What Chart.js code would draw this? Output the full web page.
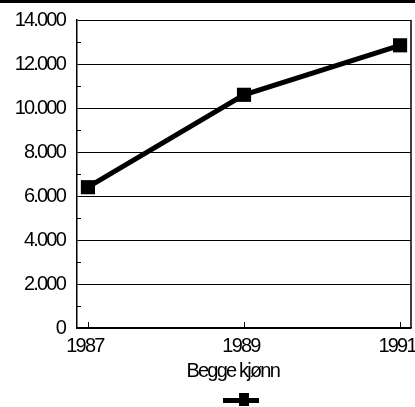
<!DOCTYPE html>
<html>
<head>
<meta charset="utf-8">
<script src="https://cdn.jsdelivr.net/npm/chart.js@4.4.1/dist/chart.umd.min.js"></script>
<style>
html,body{margin:0;padding:0;background:#fff;}
#wrap{position:relative;width:415px;height:407px;}
</style>
</head>
<body>
<div id="wrap"><canvas id="c" width="415" height="407"></canvas></div>
<script>
// ---- data ----
const years = [1987, 1989, 1991];
const values = [6400, 10600, 12850];
const yTicks = [0, 2000, 4000, 6000, 8000, 10000, 12000, 14000];
const yMinorTicks = [1000, 3000, 5000, 7000, 9000, 11000, 13000];
const seriesName = 'Begge kjønn';
const xTitle = 'Begge kjønn';

const FONT = "'Liberation Sans', Arial, sans-serif";
const SPACING = '-1.8px';

function fmt(v) {
  return String(v).replace(/\B(?=(\d{3})+(?!\d))/g, '.');
}

const decor = {
  id: 'decor',
  beforeInit(chart) { chart.ctx.letterSpacing = SPACING; },
  beforeLayout(chart) { chart.ctx.letterSpacing = SPACING; },
  beforeDraw(chart) {
    const ctx = chart.ctx;
    ctx.letterSpacing = SPACING;
    ctx.save();
    ctx.fillStyle = '#000';
    ctx.fillRect(0, 0, chart.width, 3);
    ctx.restore();
  },
  beforeDatasetsDraw(chart) {
    const ctx = chart.ctx, a = chart.chartArea;
    const x = chart.scales.x, y = chart.scales.y;
    ctx.save();
    ctx.strokeStyle = '#000';
    ctx.lineWidth = 1.5;
    ctx.beginPath();
    ctx.moveTo(a.right, a.top);
    ctx.lineTo(a.right, a.bottom);
    ctx.stroke();
    ctx.lineWidth = 1;
    yMinorTicks.forEach(v => {
      const py = Math.round(y.getPixelForValue(v)) + 0.5;
      ctx.beginPath();
      ctx.moveTo(a.left, py);
      ctx.lineTo(a.left + 4, py);
      ctx.stroke();
    });
    years.forEach(v => {
      const px = Math.round(x.getPixelForValue(v)) + 0.5;
      ctx.beginPath();
      ctx.moveTo(px, a.bottom);
      ctx.lineTo(px, a.bottom - 6);
      ctx.stroke();
    });
    ctx.restore();
  },
  afterDraw(chart) {
    // legend key: line with square marker, centred under the plot
    const ctx = chart.ctx, a = chart.chartArea;
    const ds = chart.data.datasets[0];
    const cx = Math.round((a.left + a.right) / 2);
    const cy = 400;
    ctx.save();
    ctx.fillStyle = ds.borderColor;
    ctx.fillRect(cx - 21, cy - 2, 36, 5);
    ctx.fillRect(cx - 5, cy - 7, 10, 13);
    ctx.restore();
  }
};

new Chart(document.getElementById('c'), {
  type: 'line',
  data: {
    datasets: [{
      label: seriesName,
      data: years.map((yr, i) => ({x: yr, y: values[i]})),
      borderColor: '#000',
      backgroundColor: '#000',
      borderWidth: 5,
      pointStyle: 'rect',
      pointRadius: 10,
      pointHoverRadius: 10,
      pointBorderWidth: 0,
      pointBackgroundColor: '#000',
      tension: 0
    }]
  },
  options: {
    responsive: false,
    animation: false,
    events: [],
    layout: {autoPadding: false, padding: {top: 20, right: 4, left: 0, bottom: 0}},
    plugins: {
      tooltip: {enabled: false},
      legend: {display: false}
    },
    scales: {
      x: {
        type: 'linear',
        min: 1986.86,
        max: 1991.14,
        afterBuildTicks(s) { s.ticks = years.map(v => ({value: v})); },
        afterFit(s) { s.paddingLeft = 0; s.paddingRight = 0; s.height = 79; },
        grid: {display: false, drawTicks: false},
        border: {display: true, color: '#000', width: 1.5},
        ticks: {
          color: '#000',
          font: {family: FONT, size: 20},
          padding: 6,
          labelOffset: -3,
          maxRotation: 0,
          autoSkip: false,
          callback: v => String(v)
        },
        title: {
          display: true,
          text: xTitle + '      ',
          color: '#000',
          font: {family: FONT, size: 20},
          padding: {top: 0, bottom: 24}
        }
      },
      y: {
        min: 0,
        max: 14000,
        afterBuildTicks(s) { s.ticks = yTicks.map(v => ({value: v})); },
        afterFit(s) { s.width = 77; s.paddingTop = 0; s.paddingBottom = 0; },
        grid: {color: '#000', lineWidth: 1, drawTicks: false},
        border: {display: true, color: '#000', width: 1.5},
        ticks: {
          color: '#000',
          font: {family: FONT, size: 20},
          padding: 12,
          callback: v => fmt(v)
        }
      }
    }
  },
  plugins: [decor]
});
</script>
</body>
</html>
